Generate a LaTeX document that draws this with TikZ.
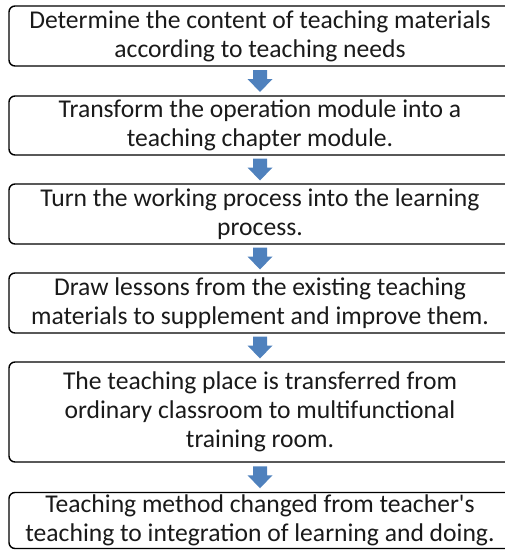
\documentclass[tikz,border=0pt]{standalone}
\usepackage{fontspec}
\newfontfamily\carl{Carlito}
\usetikzlibrary{calc}
\definecolor{arrowblue}{HTML}{4F81BD}
\definecolor{txt}{HTML}{1A1A1A}
\begin{document}
\begin{tikzpicture}[x=1pt,y=-1pt,
  stepbox/.style={draw=black, line width=1.4pt, rounded corners=6pt, fill=white,
    minimum width=502pt, inner sep=0pt, align=center, text=txt,
    font=\carl\fontsize{25.6}{29}\selectfont},
  flowarrow/.style={fill=arrowblue}]
\useasboundingbox (0,0) rectangle (505,551);
\node[stepbox, minimum height=60pt] (b1) at (260,36) {Determine the content of teaching materials\\according to teaching needs};
\node[stepbox, minimum height=59pt] (b2) at (260,125.5) {Transform the operation module into a\\teaching chapter module.};
\node[stepbox, minimum height=60pt] (b3) at (260,214) {Turn the working process into the learning\\process.};
\node[stepbox, minimum height=60pt] (b4) at (260,303) {Draw lessons from the existing teaching\\materials to supplement and improve them.};
\node[stepbox, minimum height=100pt] (b5) at (260,412) {The teaching place is transferred from\\ordinary classroom to multifunctional\\training room.};
\node[stepbox, minimum height=56pt] (b6) at (260,520.5) {Teaching method changed from teacher's\\teaching to integration of learning and doing.};
\foreach \a/\b in {b1/b2,b2/b3,b3/b4,b4/b5,b5/b6}{
  \coordinate (m\a) at ($(\a.south)!0.5!(\b.north)$);
  \fill[flowarrow] ($(m\a)+(-7,-11)$) -- ($(m\a)+(7,-11)$) -- ($(m\a)+(7,-2)$)
    -- ($(m\a)+(12.5,-2)$) -- ($(m\a)+(0,11)$) -- ($(m\a)+(-12.5,-2)$)
    -- ($(m\a)+(-7,-2)$) -- cycle;
}
\end{tikzpicture}
\end{document}
